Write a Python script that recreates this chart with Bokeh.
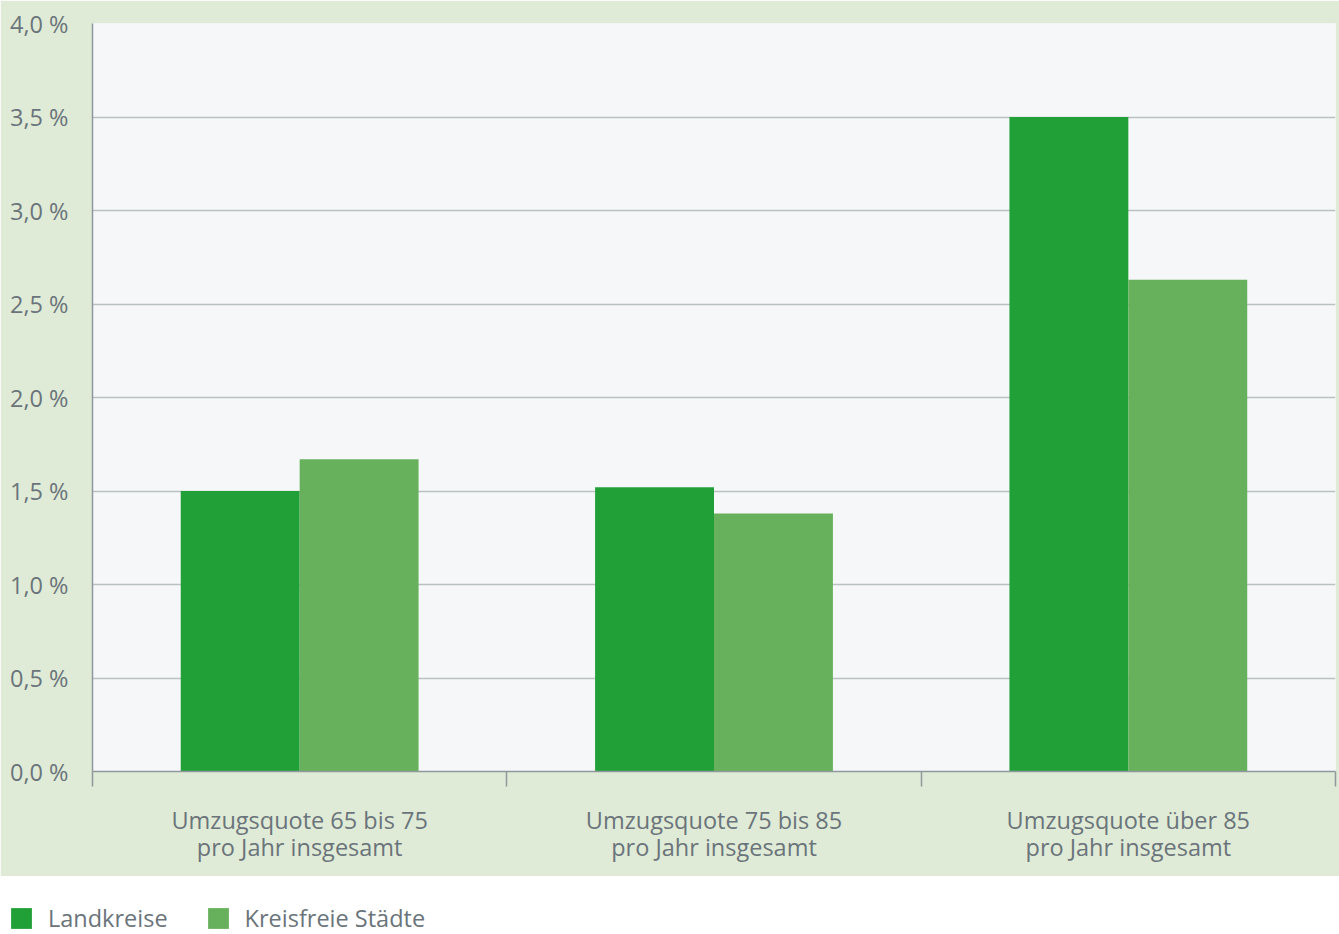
from bokeh.plotting import figure
from bokeh.models import (Range1d, LinearAxis, FixedTicker, Legend,
                          LegendItem, ColumnDataSource)
from bokeh.transform import dodge
from bokeh.layouts import column, row
from bokeh.embed import file_html
from bokeh.resources import INLINE

# ---- data ----
categories = ["65 bis 75", "75 bis 85", "über 85"]
tick_labels = ["Umzugsquote 65 bis 75\npro Jahr insgesamt",
               "Umzugsquote 75 bis 85\npro Jahr insgesamt",
               "Umzugsquote über 85\npro Jahr insgesamt"]
landkreise = [1.50, 1.52, 3.50]
kreisfreie = [1.67, 1.38, 2.63]
series_names = ["Landkreise", "Kreisfreie Städte"]
y_ticks = [0.0, 0.5, 1.0, 1.5, 2.0, 2.5, 3.0, 3.5, 4.0]
y_tick_labels = ["0,0 %", "0,5 %", "1,0 %", "1,5 %", "2,0 %", "2,5 %", "3,0 %", "3,5 %", "4,0 %"]

# ---- style ----
FONT = "Open Sans"
FS = "23.5px"
TEXT = "#6a747a"
C_LAND = "#21a038"
C_KREIS = "#68b15c"
PANEL = "#e0ebd7"
PLOTBG = "#f6f7f9"
GRID = "#b9c1c2"
AXIS = "#8f989b"

n = len(categories)
centers = [i + 0.5 for i in range(n)]
bounds = [float(i) for i in range(n + 1)]
src = ColumnDataSource(dict(x=centers, cat=categories, land=landkreise, kreis=kreisfreie))

p = figure(width=1339, height=876, x_range=Range1d(0, n),
           y_range=Range1d(0, 4), output_backend="svg", toolbar_location=None,
           x_axis_location=None, min_border_left=92, min_border_right=4,
           min_border_top=23, min_border_bottom=105)
p.background_fill_color = PLOTBG
p.border_fill_color = PANEL
p.outline_line_color = None

bw = 0.287
p.vbar(x=dodge("x", -bw / 2), top="land", width=bw, source=src,
       fill_color=C_LAND, line_color=None)
p.vbar(x=dodge("x", bw / 2), top="kreis", width=bw, source=src,
       fill_color=C_KREIS, line_color=None)

# y axis
p.yaxis.ticker = FixedTicker(ticks=y_ticks)
p.yaxis.major_label_overrides = {t: l for t, l in zip(y_ticks, y_tick_labels)}
p.yaxis.major_tick_line_color = None
p.yaxis.minor_tick_line_color = None
p.yaxis.axis_line_color = AXIS
p.yaxis.axis_line_width = 1.5
p.yaxis.major_label_standoff = 18
p.yaxis.major_label_text_font = FONT
p.yaxis.major_label_text_font_size = FS
p.yaxis.major_label_text_color = TEXT

p.ygrid.ticker = FixedTicker(ticks=y_ticks)
p.ygrid.grid_line_color = GRID
p.ygrid.grid_line_width = 1.5
p.xgrid.grid_line_color = None

# x axis: labels at group centres, boundary ticks between groups
xa = LinearAxis(ticker=FixedTicker(ticks=centers, minor_ticks=bounds))
xa.major_label_overrides = {c: l for c, l in zip(centers, tick_labels)}
xa.major_tick_out = 0
xa.major_tick_in = 0
xa.minor_tick_out = 15
xa.minor_tick_in = 0
xa.minor_tick_line_color = AXIS
xa.minor_tick_line_width = 1.5
xa.axis_line_color = AXIS
xa.axis_line_width = 1.5
xa.major_label_standoff = 17
xa.major_label_text_font = FONT
xa.major_label_text_font_size = FS
xa.major_label_text_color = TEXT
xa.major_label_text_line_height = 0.85
p.add_layout(xa, "below")

# ---- legend strip (white, below the green panel) ----
lf = figure(width=1339, height=58, x_range=Range1d(100, 101), y_range=Range1d(100, 101),
            output_backend="svg", toolbar_location=None,
            x_axis_location=None, y_axis_location=None, min_border=0)
lf.outline_line_color = None
lf.background_fill_color = "white"
lf.border_fill_color = "white"
lf.xgrid.grid_line_color = None
lf.ygrid.grid_line_color = None
r1 = lf.vbar(x="x", top="land", width=bw, source=src, fill_color=C_LAND, line_color=None)
r2 = lf.vbar(x="x", top="kreis", width=bw, source=src, fill_color=C_KREIS, line_color=None)
legend = Legend(items=[LegendItem(label=series_names[0], renderers=[r1]),
                       LegendItem(label=series_names[1], renderers=[r2])],
                orientation="horizontal", location=(8, 0),
                glyph_width=26, glyph_height=26, label_height=26,
                label_standoff=14, spacing=37,
                padding=0, margin=0, border_line_color=None,
                background_fill_alpha=0,
                label_text_font=FONT, label_text_font_size=FS,
                label_text_color=TEXT)
lf.add_layout(legend, "center")

layout = column(p, row(lf), spacing=0)
open("out.html", "w").write(file_html(layout, INLINE))
